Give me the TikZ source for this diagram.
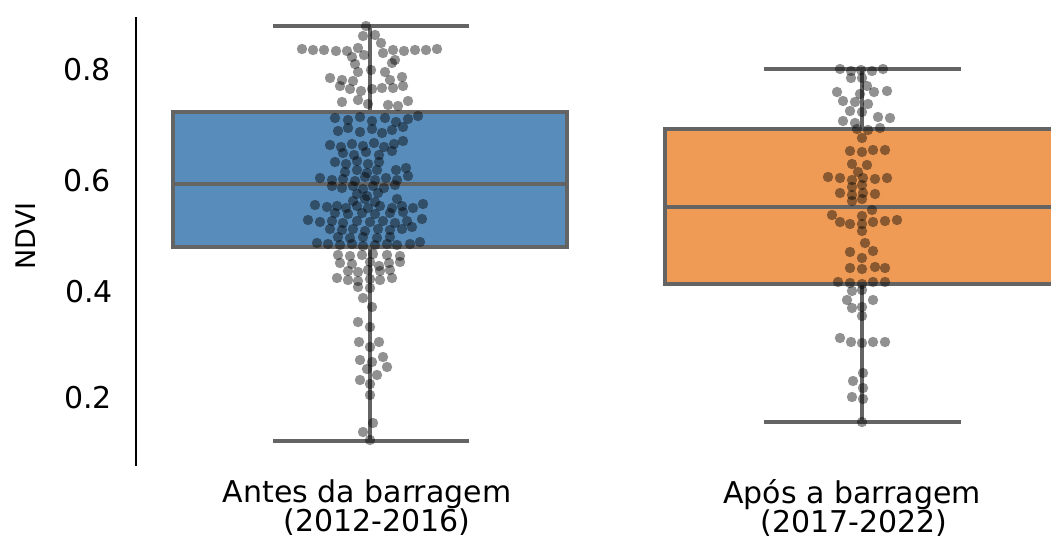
\documentclass[tikz,border=0pt]{standalone}
\usepackage{fontspec}
\setmainfont{DejaVu Sans}
\definecolor{boxblue}{RGB}{88,140,186}
\definecolor{boxorange}{RGB}{240,155,85}
\definecolor{edgegray}{RGB}{100,100,100}
\begin{document}
\begin{tikzpicture}[x=1pt,y=-1pt,
  boxst/.style={draw=edgegray,line width=3.2pt},
  whisk/.style={draw=edgegray,line width=3.2pt},
  dotst/.style={fill=black,fill opacity=0.43},
  ticklab/.style={font=\fontsize{30}{30}\selectfont,anchor=east,inner sep=0pt},
  catlab/.style={font=\fontsize{30}{30}\selectfont,anchor=base,inner sep=0pt}]
\useasboundingbox (0,0) rectangle (1051,546);
\clip (0,0) rectangle (1051,546);
% axis
\coordinate (axtop) at (136,17);
\coordinate (axbot) at (136,466);
\draw[line width=2.8pt,black] (axtop) -- (axbot);
\node[ticklab] (t8) at (111,70) {0.8};
\node[ticklab] (t6) at (111,181) {0.6};
\node[ticklab] (t4) at (113,292) {0.4};
\node[ticklab] (t2) at (112,398) {0.2};
\node[font=\fontsize{27}{27}\selectfont,rotate=90,inner sep=0pt] (ylab) at (26,236) {NDVI};
% blue box
\filldraw[boxst,fill=boxblue] (173,112) rectangle (567,247);
\draw[boxst] (173,184) -- (567,184);
\coordinate (bcapt) at (370,26);
\coordinate (bcapb) at (370,441);
\coordinate (bboxt) at (370,112);
\coordinate (bboxb) at (370,247);
\draw[whisk] (bcapt) -- (bboxt);
\draw[whisk] (bboxb) -- (bcapb);
\draw[whisk] (273,26) -- (469,26);
\draw[whisk] (273,441) -- (469,441);
% orange box
\filldraw[boxst,fill=boxorange] (665,129) rectangle (1059,284);
\draw[boxst] (665,207) -- (1059,207);
\coordinate (ocapt) at (862,69);
\coordinate (ocapb) at (862,422);
\coordinate (oboxt) at (862,129);
\coordinate (oboxb) at (862,284);
\draw[whisk] (ocapt) -- (oboxt);
\draw[whisk] (oboxb) -- (ocapb);
\draw[whisk] (764,69) -- (961,69);
\draw[whisk] (764,422) -- (961,422);
% blue swarm
\foreach \x/\y in {366/26,363/36,375/35,381/43,
 302/49,313/50,324/50,336/51,347/51,358/48,393/50,404/51,415/50,426/50,437/49,
 352/57,364/55,383/53,395/60,355/64,392/63,
 358/72,371/70,385/72,
 330/78,342/80,353/81,390/80,402/77,
 340/86,350/89,361/91,372/89,382/88,393/88,403/86,
 342/102,358/100,368/104,388/105,398/106,408/101,
 335/118,348/120,360/117,372/121,385/118,396/122,408/119,418/116,
 338/131,348/128,360/132,372/129,382/133,392/130,403/127,
 330/145,341/147,352/144,363/146,374/143,384/147,394/144,403/141,
 343/153,354/155,366/152,379/155,392/151,
 335/162,346/164,357/161,368/164,379/162,
 345/172,357/170,367/173,377/170,396/170,406/168,
 320/178,332/180,343/179,355/181,365/177,375/180,386/178,397/180,408/176,
 332/186,342/188,353/186,363/189,373/186,384/188,395/185,
 357/194,367/196,378/193,
 353/201,365/199,375/202,397/199,
 315/205,327/207,337/206,346/208,357/206,368/208,380/206,392/208,402/206,413/208,423/204,
 335/213,348/214,362/213,375/214,390/213,403/212,
 308/220,320/222,332/221,343/223,357/221,370/222,383/221,395/223,407/221,422/219,
 330/229,342/230,353/229,365/231,378/229,390/230,402/229,412/227,
 338/237,350/238,363/237,377/238,390/237,
 317/243,328/244,340/245,352/244,363/246,375/245,387/244,397/245,410/244,420/242,
 338/255,350/256,362/255,373/254,387/255,400/256,
 340/263,352/264,370/262,379/266,389/263,400/262,
 348/271,358/272,368/270,380/271,390/270,
 337/278,348/280,358/281,370/279,380/280,392/278,
 358/287,370/288,
 363/298,372/307,358/322,370/327,
 359/342,370/347,379/342,
 383/357,360/360,372/362,367/369,387/367,377/375,360/380,370/384,
 370/395,373/423,363/432,370/440}
 \fill[dotst] (\x,\y) circle[radius=5.2pt];
% orange swarm
\foreach \x/\y in {840/69,851/71,861/70,872/71,883/69,
 851/78,862/78,867/86,
 837/92,860/94,874/92,887/91,
 843/101,855/102,868/104,
 850/111,862/112,
 878/117,890/118,843/121,855/123,
 857/129,868/130,880/128,
 862/138,
 850/151,862/152,873/150,885/150,
 852/164,867/165,858/172,
 828/177,840/178,852/180,863/178,875/179,887/178,
 852/187,862/185,
 840/193,852/195,863/193,875/194,
 852/201,862/199,
 872/210,832/215,862/216,
 840/222,850/224,862/224,873/222,885/221,897/220,
 862/231,865/243,
 850/252,873/251,862/258,
 850/268,862/269,875/267,885/268,
 838/282,850/283,862/284,873/282,885/282,
 852/291,862/290,
 847/300,873/300,
 852/308,862/307,862/316,
 840/338,851/342,862/343,873/342,885/342,
 863/373,853/381,863/388,852/397,863/399,862/422}
 \fill[dotst] (\x,\y) circle[radius=5.2pt];
% category labels
\node[catlab] (l1a) at (367,502) {Antes da barragem};
\node[catlab] (l1b) at (377,531) {(2012-2016)};
\node[catlab] (l2a) at (852,503) {Após a barragem};
\node[catlab] (l2b) at (854,532) {(2017-2022)};
\end{tikzpicture}
\end{document}
